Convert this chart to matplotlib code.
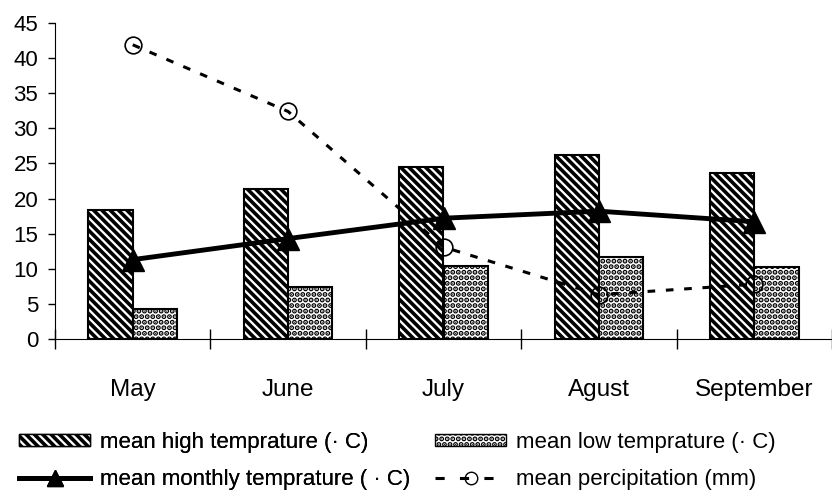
import matplotlib

matplotlib.use("Agg")
import matplotlib.pyplot as plt
from matplotlib.lines import Line2D
from matplotlib.patches import Patch
import numpy as np

months = ["May", "June", "July", "Agust", "September"]
high_temp = [18.4, 21.4, 24.5, 26.2, 23.6]
low_temp = [4.3, 7.4, 10.4, 11.7, 10.2]
mean_temp = [11.3, 14.3, 17.2, 18.2, 16.7]
precip = [41.9, 32.4, 13.1, 6.3, 7.8]

plt.rcParams["font.family"] = ["Liberation Sans", "DejaVu Sans"]
plt.rcParams["hatch.linewidth"] = 2.6

fig = plt.figure(figsize=(8.32, 4.92), dpi=100)
ax = fig.add_axes([55 / 832, 1 - 339 / 492, 1 - 55 / 832, (339 - 23) / 492])

x = np.arange(len(months))
w = 0.285
hi_hatch = "\\\\\\\\"
lo_hatch = "..."
dash = (0, (2.5, 3.5))
ax.bar(x - w / 2, high_temp, w, color="white", edgecolor="black",
       hatch=hi_hatch, linewidth=1.5)
ax.bar(x + w / 2, low_temp, w, color="white", edgecolor="black",
       hatch=lo_hatch, linewidth=1.5)
ax.plot(x, mean_temp, color="black", linewidth=3.5, marker="^",
        markersize=16, zorder=4)
ax.plot(x, precip, color="black", linewidth=2.2, linestyle=dash,
        marker="o", markersize=12, markerfacecolor="none",
        markeredgewidth=1.2, zorder=4)

ax.set_xlim(-0.5, len(months) - 0.5)
ax.set_ylim(0, 45)
ax.set_yticks(range(0, 46, 5))
ax.set_xticks(x)
ax.set_xticklabels(months)
ax.set_xticks(np.arange(-0.5, len(months), 1), minor=True)
ax.tick_params(axis="x", which="major", length=0, pad=29, labelsize=17.5)
ax.tick_params(axis="x", which="minor", direction="inout", length=14, width=1)
ax.tick_params(axis="y", length=5, width=1, pad=7, labelsize=16)
for side in ("top", "right"):
    ax.spines[side].set_visible(False)

h_high = Patch(facecolor="white", edgecolor="black", hatch=hi_hatch)
h_low = Patch(facecolor="white", edgecolor="black", hatch=lo_hatch)
h_mean = Line2D([], [], color="black", linewidth=3.5, marker="^", markersize=12)
h_prec = Line2D([], [], color="black", linewidth=2.2, linestyle=(0, (3, 5)),
                marker="o", markersize=9, markerfacecolor="none")

leg_kw = dict(loc="center left", frameon=False, fontsize=16,
              handlelength=3.2, handleheight=0.4, handletextpad=0.45,
              labelspacing=0.72, borderpad=0, borderaxespad=0)
leg1 = fig.legend([h_high, h_mean],
                  ["mean high temprature (· C)", "mean monthly temprature ( · C)"],
                  bbox_to_anchor=(19 / 832, 1 - 461 / 492), **leg_kw)
fig.legend([h_low, h_prec],
           ["mean low temprature (· C)", "mean percipitation (mm)"],
           bbox_to_anchor=(435 / 832, 1 - 461 / 492), **leg_kw)
fig.add_artist(leg1)

fig.savefig("out.png", dpi=100)
